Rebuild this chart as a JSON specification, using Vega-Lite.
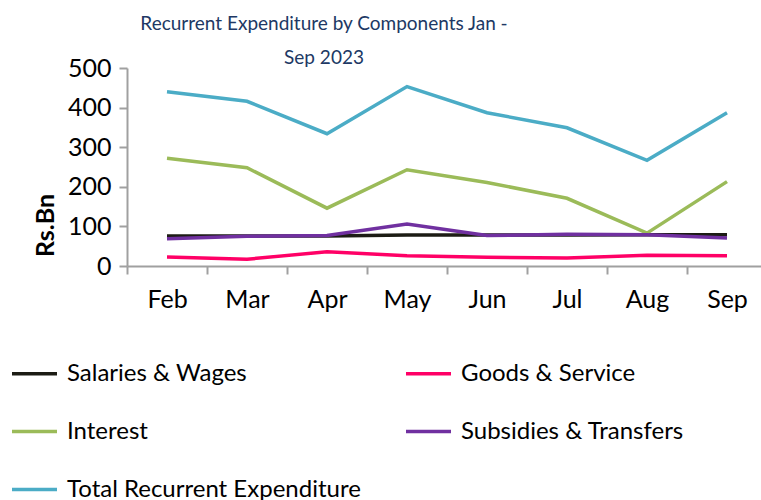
{
  "$schema": "https://vega.github.io/schema/vega-lite/v6.json",
  "autosize": "none",
  "width": 640,
  "height": 198,
  "padding": {"left": 127, "top": 68, "right": 0, "bottom": 234},
  "background": "white",
  "config": {"view": {"stroke": null}, "font": "Lato"},
  "title": {
    "text": ["Recurrent Expenditure by Components Jan -", "Sep 2023"],
    "anchor": "middle",
    "dx": -123,
    "offset": -31,
    "fontSize": 19,
    "fontWeight": "normal",
    "font": "Lato",
    "color": "#203864",
    "lineHeight": 34,
    "baseline": "bottom"
  },
  "data": {
    "values": [
      {"month": "Feb", "series": "Salaries & Wages", "value": 76},
      {"month": "Mar", "series": "Salaries & Wages", "value": 76},
      {"month": "Apr", "series": "Salaries & Wages", "value": 76},
      {"month": "May", "series": "Salaries & Wages", "value": 78},
      {"month": "Jun", "series": "Salaries & Wages", "value": 78},
      {"month": "Jul", "series": "Salaries & Wages", "value": 78},
      {"month": "Aug", "series": "Salaries & Wages", "value": 79},
      {"month": "Sep", "series": "Salaries & Wages", "value": 79},
      {"month": "Feb", "series": "Goods & Service", "value": 23},
      {"month": "Mar", "series": "Goods & Service", "value": 17},
      {"month": "Apr", "series": "Goods & Service", "value": 36},
      {"month": "May", "series": "Goods & Service", "value": 26},
      {"month": "Jun", "series": "Goods & Service", "value": 22},
      {"month": "Jul", "series": "Goods & Service", "value": 20},
      {"month": "Aug", "series": "Goods & Service", "value": 27},
      {"month": "Sep", "series": "Goods & Service", "value": 26},
      {"month": "Feb", "series": "Interest", "value": 272},
      {"month": "Mar", "series": "Interest", "value": 248},
      {"month": "Apr", "series": "Interest", "value": 146},
      {"month": "May", "series": "Interest", "value": 243},
      {"month": "Jun", "series": "Interest", "value": 211},
      {"month": "Jul", "series": "Interest", "value": 171},
      {"month": "Aug", "series": "Interest", "value": 83},
      {"month": "Sep", "series": "Interest", "value": 213},
      {"month": "Feb", "series": "Subsidies & Transfers", "value": 69},
      {"month": "Mar", "series": "Subsidies & Transfers", "value": 75},
      {"month": "Apr", "series": "Subsidies & Transfers", "value": 77},
      {"month": "May", "series": "Subsidies & Transfers", "value": 106},
      {"month": "Jun", "series": "Subsidies & Transfers", "value": 77},
      {"month": "Jul", "series": "Subsidies & Transfers", "value": 80},
      {"month": "Aug", "series": "Subsidies & Transfers", "value": 79},
      {"month": "Sep", "series": "Subsidies & Transfers", "value": 71},
      {"month": "Feb", "series": "Total Recurrent Expenditure", "value": 440},
      {"month": "Mar", "series": "Total Recurrent Expenditure", "value": 416},
      {"month": "Apr", "series": "Total Recurrent Expenditure", "value": 334},
      {"month": "May", "series": "Total Recurrent Expenditure", "value": 453},
      {"month": "Jun", "series": "Total Recurrent Expenditure", "value": 387},
      {"month": "Jul", "series": "Total Recurrent Expenditure", "value": 349},
      {"month": "Aug", "series": "Total Recurrent Expenditure", "value": 267},
      {"month": "Sep", "series": "Total Recurrent Expenditure", "value": 387}
    ]
  },
  "mark": {"type": "line", "strokeWidth": 3.5},
  "encoding": {
    "x": {
      "field": "month",
      "type": "ordinal",
      "sort": ["Feb", "Mar", "Apr", "May", "Jun", "Jul", "Aug", "Sep"],
      "bandPosition": 0.5,
      "scale": {"type": "band", "paddingInner": 0, "paddingOuter": 0},
      "axis": {
        "title": null,
        "labelAngle": 0,
        "tickBand": "extent",
        "tickSize": 8,
        "tickColor": "#a0a0a0",
        "tickWidth": 2,
        "domainColor": "#a0a0a0",
        "domainWidth": 2,
        "labelFontSize": 25,
        "labelColor": "#000000",
        "labelPadding": 13,
        "labelFont": "Lato"
      }
    },
    "y": {
      "field": "value",
      "type": "quantitative",
      "scale": {"domain": [0, 500]},
      "axis": {
        "values": [0, 100, 200, 300, 400, 500],
        "grid": false,
        "tickSize": 8,
        "tickColor": "#a0a0a0",
        "tickWidth": 2,
        "domainColor": "#a0a0a0",
        "domainWidth": 2,
        "labelFontSize": 25,
        "labelColor": "#000000",
        "labelPadding": 8,
        "labelFont": "Lato",
        "title": "Rs.Bn",
        "titleFontSize": 25,
        "titleFontWeight": "bold",
        "titleColor": "#000000",
        "titleFont": "Lato",
        "titleAngle": -90,
        "titleX": -82,
        "titleY": 157,
        "titleAlign": "center",
        "titleBaseline": "middle"
      }
    },
    "color": {
      "field": "series",
      "type": "nominal",
      "scale": {
        "domain": ["Salaries & Wages", "Interest", "Total Recurrent Expenditure", "Goods & Service", "Subsidies & Transfers"],
        "range": ["#1c1c14", "#9bbb59", "#4bacc6", "#ff0066", "#7030a0"]
      },
      "legend": {
        "title": null,
        "orient": "none",
        "legendX": -117,
        "legendY": 281,
        "columns": 2,
        "columnPadding": 38,
        "rowPadding": 21,
        "symbolType": "stroke",
        "symbolSize": 2025,
        "symbolStrokeWidth": 3.5,
        "labelFontSize": 24,
        "labelFont": "Lato",
        "labelColor": "#000000",
        "labelOffset": 8,
        "labelLimit": 500
      }
    }
  }
}
